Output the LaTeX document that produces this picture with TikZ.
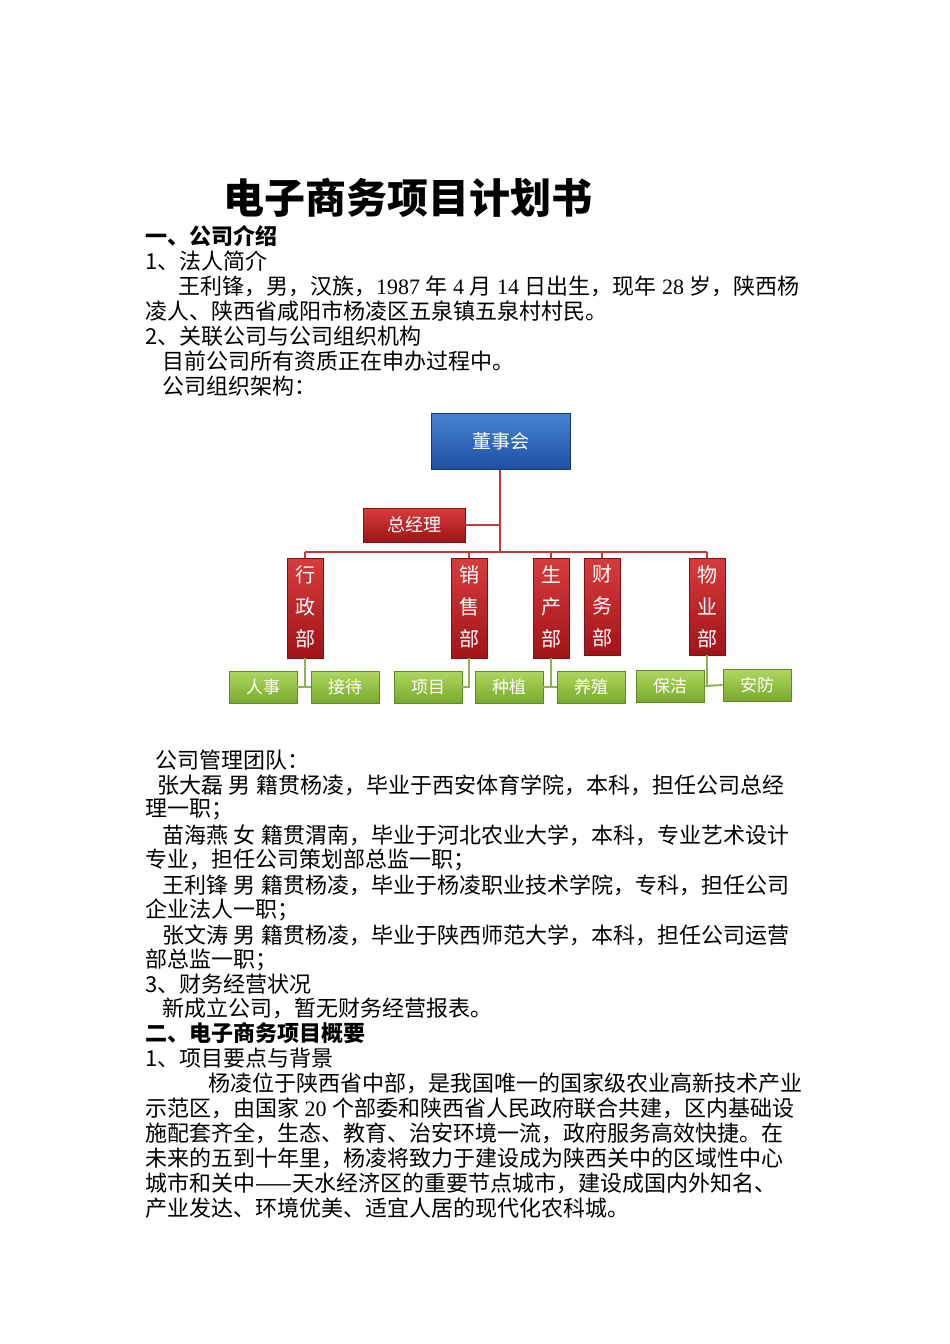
\documentclass[tikz,border=0pt]{standalone}
\usepackage{fontspec}
\setmainfont{Liberation Serif}
\newfontfamily\cjk{Noto Sans CJK SC}
\newcommand{\lt}[1]{{\rmfamily #1}}
\definecolor{bTop}{RGB}{70,130,210}
\definecolor{bBot}{RGB}{30,80,165}
\definecolor{rTop}{RGB}{215,60,60}
\definecolor{rBot}{RGB}{160,20,25}
\definecolor{gTop}{RGB}{175,215,95}
\definecolor{gBot}{RGB}{120,170,45}
\definecolor{rLine}{RGB}{190,60,60}
\definecolor{gLine}{RGB}{140,180,80}
\begin{document}
\begin{tikzpicture}[x=1pt,y=-1pt,
  line/.style={anchor=west,inner sep=0pt,font=\cjk\fontsize{22}{22}\selectfont},
  hd/.style={line,font=\cjk\bfseries\fontsize{22}{22}\selectfont},
  bx/.style={draw=#1,line width=0.6pt,inner sep=0pt,text=white,align=center},
  redbox/.style={bx=rBot!80!black,top color=rTop,bottom color=rBot},
  greenbox/.style={bx=gBot!80!black,top color=gTop,bottom color=gBot,minimum width=68pt,minimum height=32pt,font=\cjk\fontsize{17}{17}\selectfont},
  conn/.style={draw=rLine,line width=2.2pt},
  gconn/.style={draw=gLine,line width=2pt}]
\useasboundingbox (0,0) rectangle (950,1344);
\fill[white] (0,0) rectangle (950,1344);
\node[anchor=west,inner sep=0pt,font=\cjk\bfseries\fontsize{41}{41}\selectfont] (title) at (223,198) {电子商务项目计划书};
\node[hd] (h1) at (145,236) {一、公司介绍};
\node[line] (l1) at (145,261) {1、法人简介};
\node[line] (l2) at (178,286) {王利锋，男，汉族，\lt{1987 }年\lt{ 4 }月\lt{ 14 }日出生，现年\lt{ 28 }岁，陕西杨};
\node[line] (l3) at (145,311) {凌人、陕西省咸阳市杨凌区五泉镇五泉村村民。};
\node[line] (l4) at (145,336) {2、关联公司与公司组织机构};
\node[line] (l5) at (162,361) {目前公司所有资质正在申办过程中。};
\node[line] (l6) at (162,386) {公司组织架构：};
% chart
\coordinate (top) at (500,469);
\coordinate (gmj) at (500,525);
\coordinate (barC) at (500,552);
\coordinate (barL) at (305,552);
\coordinate (barR) at (707,552);
\draw[conn] (top) -- (barC);
\draw[conn] (barL) -- (barR);
\node[bx=bBot!70!black,top color=bTop,bottom color=bBot,minimum width=139pt,minimum height=56pt,font=\cjk\fontsize{19}{19}\selectfont] (board) at (501,441) {董事会};
\node[redbox,minimum width=102pt,minimum height=34pt,font=\cjk\fontsize{18}{18}\selectfont] (gm) at (414,525) {总经理};
\draw[conn] (gm.east) -- (gmj);
\foreach \n/\x/\y/\h/\t in {xz/305/608/100/{行\\[12pt]政\\[12pt]部},xs/469/608/100/{销\\[12pt]售\\[12pt]部},sc/551/608/100/{生\\[12pt]产\\[12pt]部},cw/602/606.5/97/{财\\[12pt]务\\[12pt]部},wy/707/606.5/97/{物\\[12pt]业\\[12pt]部}}{
  \draw[conn] (\x,552) -- (\x,570);
  \node[redbox,minimum width=36pt,minimum height=\h pt] (\n) at (\x,\y) {};
  \node[inner sep=0pt,anchor=north,text=white,align=center,font=\cjk\fontsize{20}{20}\selectfont] at (\x,565) {\t};
}
\foreach \n/\x/\y/\t in {rs/263/687/人事,jd/345/687/接待,xm/428/687/项目,zz/509/687/种植,yz/591/687/养殖,bj/670/686/保洁,af/757/685/安防}{
  \node[greenbox] (\n) at (\x,\y) {\t};
}
\coordinate (j1) at (305,687); \coordinate (j2) at (469,687);
\coordinate (j3) at (551,687); \coordinate (j4) at (707,685);
\draw[gconn] (xz.south) -- (j1); \draw[gconn] (rs.east) -- (jd.west);
\draw[gconn] (xs.south) -- (j2) -- (xm.east);
\draw[gconn] (sc.south) -- (j3); \draw[gconn] (zz.east) -- (yz.west);
\draw[gconn] (wy.south) -- (j4); \draw[gconn] (bj.east) -- (af.west);
% text below
\node[line] (m1) at (155,760) {公司管理团队：};
\node[line] (m2) at (157,785) {张大磊\lt{ }男\lt{ }籍贯杨凌，毕业于西安体育学院，本科，担任公司总经};
\node[line] (m3) at (145,810) {理一职；};
\node[line] (m4) at (162,835) {苗海燕\lt{ }女\lt{ }籍贯渭南，毕业于河北农业大学，本科，专业艺术设计};
\node[line] (m5) at (145,860) {专业，担任公司策划部总监一职；};
\node[line] (m6) at (162,885) {王利锋\lt{ }男\lt{ }籍贯杨凌，毕业于杨凌职业技术学院，专科，担任公司};
\node[line] (m7) at (145,910) {企业法人一职；};
\node[line] (m8) at (162,935) {张文涛\lt{ }男\lt{ }籍贯杨凌，毕业于陕西师范大学，本科，担任公司运营};
\node[line] (m9) at (145,960) {部总监一职；};
\node[line] (m10) at (145,984) {3、财务经营状况};
\node[line] (m11) at (162,1008) {新成立公司，暂无财务经营报表。};
\node[hd] (h2) at (145,1033) {二、电子商务项目概要};
\node[line] (p1) at (145,1058) {1、项目要点与背景};
\node[line] (p2) at (208,1083) {杨凌位于陕西省中部，是我国唯一的国家级农业高新技术产业};
\node[line] (p3) at (145,1108) {示范区，由国家\lt{ 20 }个部委和陕西省人民政府联合共建，区内基础设};
\node[line] (p4) at (145,1133) {施配套齐全，生态、教育、治安环境一流，政府服务高效快捷。在};
\node[line] (p5) at (145,1158) {未来的五到十年里，杨凌将致力于建设成为陕西关中的区域性中心};
\node[line] (p6) at (145,1183) {城市和关中——天水经济区的重要节点城市，建设成国内外知名、};
\node[line] (p7) at (145,1208) {产业发达、环境优美、适宜人居的现代化农科城。};
\end{tikzpicture}
\end{document}
